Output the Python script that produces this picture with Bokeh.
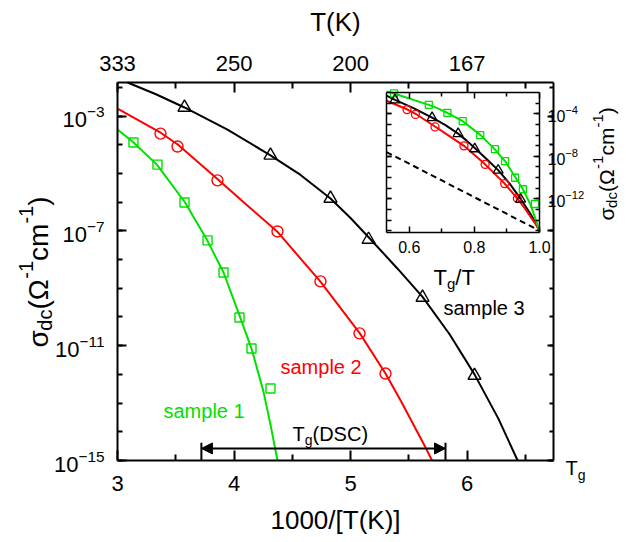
import math
from bokeh.plotting import figure
from bokeh.models import (Range1d, LinearAxis, LogAxis, FixedTicker, Label, Arrow,
                          NormalHead, LogTickFormatter, LogScale)
from bokeh.embed import file_html
from bokeh.resources import INLINE

FONT = "Liberation Sans"
GREEN = "#00e000"
RED = "#ff0000"
BLACK = "#000000"

# ---------------- data: main panel (x = 1000/T, log10 sigma_dc) ----------------
s1_x = [3.137, 3.343, 3.575, 3.773, 3.910, 4.047, 4.150, 4.313]
s1_logy = [-3.92, -4.69, -6.01, -7.33, -8.45, -10.02, -11.10, -12.49]
s1_fit_x = [3.00, 3.14, 3.34, 3.58, 3.77, 3.91, 4.05, 4.15, 4.253, 4.313, 4.373]
s1_fit_logy = [-3.47, -3.93, -4.70, -6.01, -7.33, -8.45, -9.98, -11.10, -12.60, -13.75, -15.0]

s2_x = [3.369, 3.515, 3.858, 4.373, 4.742, 5.077, 5.300]
s2_logy = [-3.61, -4.06, -5.24, -7.02, -8.76, -10.57, -11.97]
s2_fit_x = [3.00, 3.37, 3.52, 3.86, 4.10, 4.37, 4.74, 5.08, 5.30, 5.43, 5.644, 5.70]
s2_fit_logy = [-2.74, -3.58, -4.00, -5.20, -6.06, -7.02, -8.76, -10.57, -11.97, -12.91, -14.55, -15.0]

s3_x = [3.575, 4.313, 4.828, 5.155, 5.618, 6.064]
s3_logy = [-2.70, -4.37, -5.87, -7.30, -9.32, -12.04]
s3_fit_x = [3.086, 3.33, 3.575, 3.944, 4.313, 4.571, 4.828, 5.00, 5.155, 5.40, 5.618,
            5.85, 6.064, 6.27, 6.434]
s3_fit_logy = [-1.83, -2.24, -2.70, -3.47, -4.37, -5.05, -5.87, -6.55, -7.22, -8.30, -9.30,
               -10.60, -12.00, -13.55, -15.0]

tg_dsc = [3.72, 5.815]          # Tg(DSC) range, 1000/T
tg_arrow_logy = -14.58

x_lim = [3.0, 6.742]
logy_lim = [-15.0, -1.83]
x_ticks = [3, 4, 5, 6]
x_minor = [3.5, 4.5, 5.5, 6.5]
top_labels = ["333", "250", "200", "167"]
y_major_exp = [-15, -11, -7, -3]

# ---------------- data: inset (Tg/T, log10 sigma_dc) ----------------
i1_x = [0.553, 0.660, 0.717, 0.764, 0.818, 0.863, 0.894, 0.925, 0.949, 0.986]
i1_logy = [-2.09, -3.16, -3.92, -4.69, -6.01, -7.33, -8.45, -10.02, -11.10, -12.49]
i1_fit_x = [0.530, 0.553, 0.660, 0.686, 0.718, 0.764, 0.819, 0.862, 0.894, 0.926, 0.949,
            0.973, 0.986, 1.0]
i1_fit_logy = [-1.90, -2.09, -3.16, -3.47, -3.93, -4.70, -6.01, -7.33, -8.45, -9.98, -11.10,
               -12.60, -13.75, -15.0]

i2_x = [0.593, 0.619, 0.679, 0.768, 0.833, 0.893, 0.932]
i2_logy = [-3.61, -4.06, -5.24, -7.02, -8.76, -10.57, -11.97]
i2_fit_x = [0.530, 0.593, 0.619, 0.679, 0.721, 0.768, 0.833, 0.893, 0.932, 0.955, 0.992, 1.0]
i2_fit_logy = [-2.78, -3.58, -4.00, -5.20, -6.06, -7.02, -8.76, -10.57, -11.97, -12.91,
               -14.55, -15.0]

i3_x = [0.556, 0.670, 0.750, 0.801, 0.873, 0.942]
i3_logy = [-2.70, -4.37, -5.87, -7.30, -9.32, -12.04]
i3_fit_x = [0.530, 0.556, 0.613, 0.670, 0.710, 0.750, 0.777, 0.801, 0.839, 0.873, 0.909,
            0.942, 0.975, 1.0]
i3_fit_logy = [-2.30, -2.70, -3.47, -4.37, -5.05, -5.87, -6.55, -7.22, -8.30, -9.30, -10.60,
               -12.00, -13.55, -15.0]

dash_x = [0.530, 1.0]
dash_logy = [-7.60, -15.0]

ix_lim = [0.53, 1.0]
ilogy_lim = [-15.17, -2.0]
inset_x_ticks = [0.6, 0.8, 1.0]
inset_x_labels = ["0.6", "0.8", "1.0"]
inset_x_minor = [0.7, 0.9]
inset_y_major_exp = [-12, -8, -4]


def pw(v):
    return [10.0 ** a for a in v]


# ---------------- layout (pixels on the canvas) ----------------
W, H = 624, 540
MPL, MPR, MPT, MPB = 117, 553, 82, 460       # main plot box
IPL, IPR, IPT, IPB = 386, 539, 92, 232       # inset box

mppx = (MPR - MPL) / (x_lim[1] - x_lim[0])
mppy = (MPB - MPT) / (logy_lim[1] - logy_lim[0])
cx0 = x_lim[0] - MPL / mppx
cx1 = cx0 + W / mppx
cy1 = logy_lim[1] + MPT / mppy
cy0 = cy1 - H / mppy

ippx = (IPR - IPL) / (ix_lim[1] - ix_lim[0])
ippy = (IPB - IPT) / (ilogy_lim[1] - ilogy_lim[0])
icx0 = ix_lim[0] - IPL / ippx
icx1 = icx0 + W / ippx
icy1 = ilogy_lim[1] + IPT / ippy
icy0 = icy1 - H / ippy

p = figure(width=W, height=H, x_range=Range1d(cx0, cx1),
           y_range=Range1d(10 ** cy0, 10 ** cy1), y_axis_type="log",
           x_axis_location=None, y_axis_location=None,
           output_backend="svg", toolbar_location=None, min_border=0)
p.outline_line_color = None
p.background_fill_color = "white"
p.border_fill_color = "white"
p.xgrid.grid_line_color = None
p.ygrid.grid_line_color = None
p.extra_x_ranges = {"ix": Range1d(icx0, icx1)}
p.extra_y_ranges = {"iy": Range1d(10 ** icy0, 10 ** icy1)}
p.extra_y_scales = {"iy": LogScale()}


def main_xy(px, py):
    return cx0 + px / mppx, 10 ** (cy1 - py / mppy)


EM = {'0': .556, '1': .556, '2': .556, '3': .556, '4': .556, '5': .556, '6': .556,
      '7': .556, '8': .556, '9': .556, '.': .278, '-': .333, '(': .333, ')': .333,
      '/': .278, '[': .278, ']': .278, ' ': .278, 'a': .556, 'c': .5, 'd': .556,
      'e': .556, 'g': .556, 'l': .222, 'm': .833, 'p': .556, 's': .5, 'C': .722,
      'D': .722, 'K': .667, 'S': .667, 'T': .611, 'σ': .60, 'Ω': .77}


def tw(txt, size):
    return sum(EM.get(c, .556) for c in txt) * size


def rich(x0, y0, pieces, vertical=False, color=BLACK):
    adv = 0.0
    for txt, size, shift in pieces:
        if vertical:
            px, py = x0 - shift, y0 - adv
        else:
            px, py = x0 + adv, y0 - shift
        dx, dy = main_xy(px, py)
        p.add_layout(Label(x=dx, y=dy, text=txt, text_font=FONT,
                           text_font_size=f"{size}px", text_color=color,
                           text_align="left", text_baseline="alphabetic",
                           angle=(math.pi / 2 if vertical else 0)))
        adv += tw(txt, size)


def plain(px, py, txt, size, color):
    dx, dy = main_xy(px, py)
    p.add_layout(Label(x=dx, y=dy, text=txt, text_font=FONT,
                       text_font_size=f"{size}px", text_color=color,
                       text_align="left", text_baseline="middle"))


def style(ax, maj_in, min_in, size, lw=2):
    ax.axis_line_width = lw
    ax.axis_line_color = BLACK
    ax.major_tick_line_width = lw
    ax.minor_tick_line_width = lw
    ax.major_tick_line_color = BLACK
    ax.minor_tick_line_color = BLACK
    ax.major_tick_in = maj_in
    ax.major_tick_out = 0
    ax.minor_tick_in = min_in
    ax.minor_tick_out = 0
    ax.major_label_text_font = FONT
    ax.major_label_text_font_size = size
    ax.major_label_text_color = BLACK
    ax.axis_label_text_font = FONT
    ax.axis_label_text_font_style = "normal"
    ax.axis_label_text_color = BLACK


def blank_labels(ax, ticks):
    ax.major_label_overrides = {float(t): "" for t in ticks}
    ax.major_label_text_font_size = "2px"
    ax.major_label_standoff = 0


# ---------------- main axes (fixed at the plot box edges) ----------------
xb = tuple(x_lim)
yb = (10 ** logy_lim[0], 10 ** logy_lim[1])
y_major = [10.0 ** e for e in y_major_exp]
y_minor = [10.0 ** (-k) for k in range(2, 16)]

bottom = LinearAxis(ticker=FixedTicker(ticks=x_ticks, minor_ticks=x_minor),
                    axis_label="1000/[T(K)]", fixed_location=yb[0], bounds=xb)
style(bottom, 10, 6, "22px")
bottom.major_label_standoff = 15
bottom.axis_label_standoff = 11
bottom.axis_label_text_font_size = "26px"
p.add_layout(bottom, "below")

top = LinearAxis(ticker=FixedTicker(ticks=x_ticks, minor_ticks=x_minor),
                 axis_label="T(K)", fixed_location=yb[1], bounds=xb)
style(top, 10, 6, "22px")
top.major_label_overrides = {float(t): s for t, s in zip(x_ticks, top_labels)}
top.major_label_standoff = 12
top.axis_label_standoff = 16
top.axis_label_text_font_size = "26px"
p.add_layout(top, "above")

left = LogAxis(ticker=FixedTicker(ticks=y_major, minor_ticks=y_minor),
               formatter=LogTickFormatter(), fixed_location=xb[0], bounds=yb)
style(left, 9, 5, "22px")
left.major_label_standoff = 13
p.add_layout(left, "left")

right = LogAxis(ticker=FixedTicker(ticks=y_major, minor_ticks=y_minor),
                fixed_location=xb[1], bounds=yb)
style(right, 6, 4, "2px")
blank_labels(right, y_major)
p.add_layout(right, "right")

# curves and symbols
p.line(s3_fit_x, pw(s3_fit_logy), line_color=BLACK, line_width=2)
p.line(s2_fit_x, pw(s2_fit_logy), line_color=RED, line_width=2)
p.line(s1_fit_x, pw(s1_fit_logy), line_color=GREEN, line_width=2)
p.scatter(s3_x, pw(s3_logy), marker="triangle", size=13, fill_color=None,
          line_color=BLACK, line_width=1.4)
p.scatter(s2_x, pw(s2_logy), marker="circle", size=11, fill_color=None,
          line_color=RED, line_width=1.4)
p.scatter(s1_x, pw(s1_logy), marker="square", size=9, fill_color=None,
          line_color=GREEN, line_width=1.4)

# Tg(DSC) arrow
p.add_layout(Arrow(start=NormalHead(size=11, fill_color=BLACK, line_color=BLACK),
                   end=NormalHead(size=11, fill_color=BLACK, line_color=BLACK),
                   x_start=tg_dsc[0], x_end=tg_dsc[1],
                   y_start=10 ** tg_arrow_logy, y_end=10 ** tg_arrow_logy,
                   line_width=2, line_color=BLACK))
p.segment(x0=tg_dsc, x1=tg_dsc, y0=[10 ** -14.38] * 2, y1=[10 ** -15.0] * 2,
          line_color=BLACK, line_width=2)

plain(163, 410, "sample 1", 20, GREEN)
plain(280, 366, "sample 2", 20, RED)
plain(443, 307, "sample 3", 20, BLACK)
rich(292, 433, [("T", 20, 0), ("g", 14, -6), ("(DSC)", 20, 0)])
rich(565, 467, [("T", 20, 0), ("g", 14, -7)])
rich(38, 347, [("σ", 28, 0), ("dc", 20, -6), ("(Ω", 28, 0), ("-1", 20, 13),
               ("cm", 28, 0), ("-1", 20, 13), (")", 28, 0)], vertical=True)

# ---------------- inset axes and data ----------------
ixb = tuple(ix_lim)
iyb = (10 ** ilogy_lim[0], 10 ** ilogy_lim[1])
iy_major = [10.0 ** e for e in inset_y_major_exp]
iy_minor = [10.0 ** (-k) for k in range(3, 16)]
kw = dict(x_range_name="ix", y_range_name="iy")

ib = LinearAxis(ticker=FixedTicker(ticks=inset_x_ticks, minor_ticks=inset_x_minor),
                fixed_location=iyb[0], bounds=ixb, **kw)
style(ib, 6, 4, "16px", lw=1.5)
ib.major_label_overrides = {float(t): s for t, s in zip(inset_x_ticks, inset_x_labels)}
ib.major_label_standoff = 8
p.add_layout(ib, "below")

it = LinearAxis(ticker=FixedTicker(ticks=inset_x_ticks, minor_ticks=inset_x_minor),
                fixed_location=iyb[1], bounds=ixb, **kw)
style(it, 6, 4, "2px", lw=1.5)
blank_labels(it, inset_x_ticks)
p.add_layout(it, "above")

il = LogAxis(ticker=FixedTicker(ticks=iy_major, minor_ticks=iy_minor),
             fixed_location=ixb[0], bounds=iyb, **kw)
style(il, 5, 5, "2px", lw=1.5)
blank_labels(il, iy_major)
p.add_layout(il, "left")

ir = LogAxis(ticker=FixedTicker(ticks=iy_major, minor_ticks=iy_minor),
             fixed_location=ixb[1], bounds=iyb, formatter=LogTickFormatter(), **kw)
style(ir, 6, 4, "16px", lw=1.5)
ir.major_label_standoff = 8
p.add_layout(ir, "right")

p.line(dash_x, pw(dash_logy), line_color=BLACK, line_width=2, line_dash="6 4", **kw)
p.line(i3_fit_x, pw(i3_fit_logy), line_color=BLACK, line_width=2, **kw)
p.line(i2_fit_x, pw(i2_fit_logy), line_color=RED, line_width=2, **kw)
p.line(i1_fit_x, pw(i1_fit_logy), line_color=GREEN, line_width=2, **kw)
p.scatter(i1_x, pw(i1_logy), marker="square", size=7, fill_color=None,
          line_color=GREEN, line_width=1.3, **kw)
p.scatter(i2_x, pw(i2_logy), marker="circle", size=8, fill_color=None,
          line_color=RED, line_width=1.3, **kw)
p.scatter(i3_x, pw(i3_logy), marker="triangle", size=10, fill_color=None,
          line_color=BLACK, line_width=1.3, **kw)

rich(433, 277, [("T", 22, 0), ("g", 15, -6), ("/T", 22, 0)])
rich(606, 220, [("σ", 21, 0), ("dc", 15, -5), ("(Ω", 21, 0), ("-1", 15, 9),
                ("cm", 21, 0), ("-1", 15, 9), (")", 21, 0)], vertical=True)

open("out.html", "w").write(file_html(p, INLINE))
